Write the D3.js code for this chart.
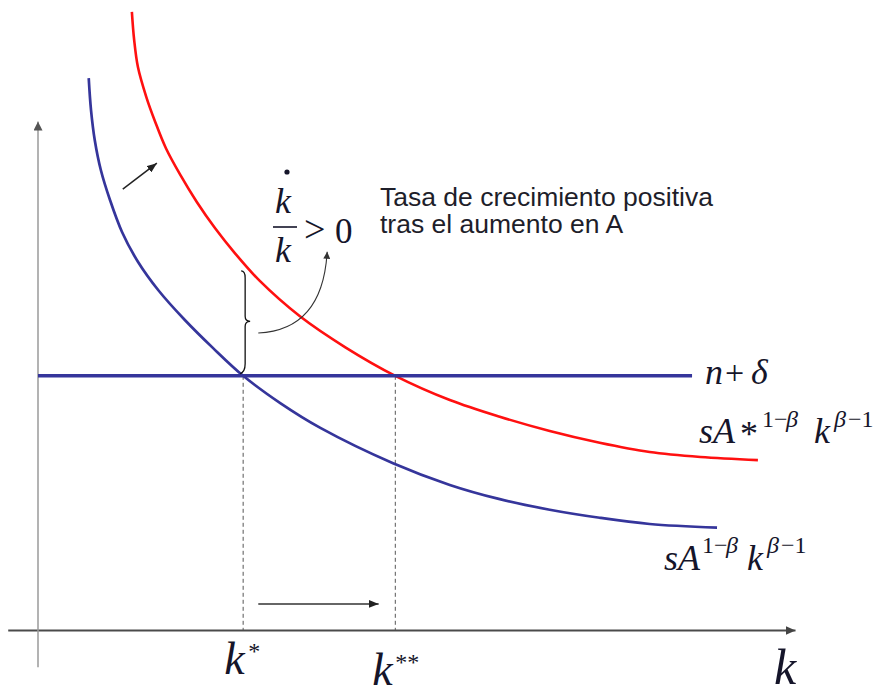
<!DOCTYPE html>
<html>
<head>
<meta charset="utf-8">
<script src="https://cdn.jsdelivr.net/npm/d3@7/dist/d3.min.js"></script>
<style>
  html, body { margin: 0; padding: 0; background: #fff; }
  svg { display: block; }
  .math { font-family: "Liberation Serif", "Times New Roman", serif; fill: #15152a; }
  .note { font-family: "Liberation Sans", Arial, sans-serif; fill: #1e1e2a; }
</style>
</head>
<body>
<svg id="chart" width="881" height="695"></svg>
<script>
// Capital stock k (horizontal) and growth-rate terms (vertical), in chart units 0..100
const kBlue = [6.7, 7.0, 7.5, 8.3, 9.5, 11.1, 13.2, 15.9, 19.4, 23.1, 27.1, 32.0, 37.3, 46.9, 54.4, 61.0, 67.6, 74.2, 80.8, 89.7];
const vBlue = [89.0, 83.9, 79.0, 74.2, 69.4, 64.2, 59.4, 54.8, 50.0, 45.5, 41.0, 36.6, 32.6, 26.9, 23.4, 21.1, 19.4, 18.1, 17.1, 16.5];

const kRed = [12.4, 12.7, 13.2, 14.3, 15.5, 16.9, 18.8, 21.0, 23.4, 26.0, 29.3, 34.6, 40.6, 47.2, 54.4, 61.0, 67.6, 74.2, 80.8, 87.5, 95.1];
const vRed = [99.7, 95.2, 90.8, 86.0, 81.9, 77.7, 73.4, 69.0, 64.8, 60.8, 56.3, 50.6, 45.6, 41.0, 37.1, 34.4, 32.1, 30.2, 28.7, 27.9, 27.4];

// n + delta (flat line) and its extent
const nDelta = 41.0;
const nDeltaEnd = 86.4;

// steady states before and after the rise in A
const kStar = 27.1;
const kStarStar = 47.2;

// extents of the drawn axes
const xAxisExtent = [-4, 100];
const yAxisExtent = [-6, 82];

const svg = d3.select("#chart");

const x = d3.scaleLinear().domain([0, 100]).range([38, 795]);
const y = d3.scaleLinear().domain([0, 100]).range([630, 10]);

// arrowhead markers
const defs = svg.append("defs");
function marker(id, color, w, h) {
  defs.append("marker")
    .attr("id", id)
    .attr("viewBox", `0 0 ${w} ${h}`)
    .attr("refX", w).attr("refY", h / 2)
    .attr("markerWidth", w).attr("markerHeight", h)
    .attr("markerUnits", "userSpaceOnUse")
    .attr("orient", "auto")
    .append("path")
    .attr("d", `M0,0 L${w},${h / 2} L0,${h} Z`)
    .attr("fill", color);
}
marker("headAxisX", "#444", 10, 9);
marker("headAxisY", "#555", 9, 9);
marker("headSmall", "#222", 10, 8);
marker("headCurve", "#333", 7, 7);

// axes: bare lines with arrowheads, built with d3 axis generators (no ticks)
const xAxisScale = d3.scaleLinear().domain(xAxisExtent).range([x(xAxisExtent[0]), x(xAxisExtent[1])]);
const yAxisScale = d3.scaleLinear().domain(yAxisExtent).range([y(yAxisExtent[0]), y(yAxisExtent[1])]);

const gx = svg.append("g").attr("transform", `translate(0,${y(0)})`)
  .call(d3.axisBottom(xAxisScale).tickValues([]).tickSizeOuter(0));
gx.select(".domain").attr("stroke", "#4a4a4a").attr("stroke-width", 2).attr("marker-end", "url(#headAxisX)");

const gy = svg.append("g").attr("transform", `translate(${x(0)},0)`)
  .call(d3.axisLeft(yAxisScale).tickValues([]).tickSizeOuter(0));
gy.select(".domain").attr("stroke", "#9a9a9a").attr("stroke-width", 1.5)
  .attr("d", `M0,${yAxisScale(yAxisExtent[0])}V${yAxisScale(yAxisExtent[1])}`)
  .attr("marker-end", "url(#headAxisY)");

// dashed drop lines at the two steady states
[kStar, kStarStar].forEach(k => {
  svg.append("line")
    .attr("x1", x(k)).attr("x2", x(k))
    .attr("y1", y(nDelta)).attr("y2", y(0))
    .attr("stroke", "#555").attr("stroke-width", 1)
    .attr("stroke-dasharray", "4,3");
});

const line = d3.line()
  .x(d => x(d[0])).y(d => y(d[1]))
  .curve(d3.curveCatmullRom.alpha(0.5));

// original curve sA^(1-β) k^(β-1)
svg.append("path")
  .datum(d3.zip(kBlue, vBlue))
  .attr("d", line)
  .attr("fill", "none").attr("stroke", "#35359b").attr("stroke-width", 2.7);

// curve after the rise in A
svg.append("path")
  .datum(d3.zip(kRed, vRed))
  .attr("d", line)
  .attr("fill", "none").attr("stroke", "#ff1010").attr("stroke-width", 2.6);

// n + δ
svg.append("line")
  .attr("x1", x(0)).attr("x2", x(nDeltaEnd))
  .attr("y1", y(nDelta)).attr("y2", y(nDelta))
  .attr("stroke", "#35359b").attr("stroke-width", 3.4);

// shift arrow between the curves
svg.append("line")
  .attr("x1", x(11.2)).attr("y1", y(71.1))
  .attr("x2", x(15.7)).attr("y2", y(75.3))
  .attr("stroke", "#222").attr("stroke-width", 1.5)
  .attr("marker-end", "url(#headSmall)");

// movement of k from k* to k**
svg.append("line")
  .attr("x1", x(kStar + 2.0)).attr("y1", y(4.2))
  .attr("x2", x(kStarStar - 2.2)).attr("y2", y(4.2))
  .attr("stroke", "#333").attr("stroke-width", 1.5)
  .attr("marker-end", "url(#headSmall)");

// brace over the gap between the red curve and n + δ at k*
const bx = x(kStar) + 2;
const bTop = y(57.6), bBot = y(nDelta) - 6, bMid = (bTop + bBot) / 2;
svg.append("path")
  .attr("d", `M${bx - 4},${bTop - 2} Q${bx},${bTop - 2} ${bx},${bTop + 5}
              L${bx},${bMid - 5} Q${bx},${bMid} ${bx + 5},${bMid}
              Q${bx},${bMid} ${bx},${bMid + 5}
              L${bx},${bBot - 6} Q${bx},${bBot + 2} ${bx - 5},${bBot + 4}`)
  .attr("fill", "none").attr("stroke", "#111").attr("stroke-width", 1.3);

// curved pointer from the brace to the growth-rate expression
svg.append("path")
  .attr("d", `M${x(29.1)},${y(47.9)} Q${x(37.6)},${y(48.4)} ${x(38.2)},${y(61.0)}`)
  .attr("fill", "none").attr("stroke", "#333").attr("stroke-width", 1.1)
  .attr("marker-end", "url(#headCurve)");

// growth-rate expression  k̇ / k > 0
const fx = 273;
svg.append("circle").attr("cx", fx + 14).attr("cy", 172).attr("r", 2.6).attr("fill", "#15152a");
svg.append("text").attr("class", "math").attr("x", fx + 2).attr("y", 213)
  .attr("font-size", 36).attr("font-style", "italic").text("k");
svg.append("line").attr("x1", fx).attr("x2", fx + 24).attr("y1", 227).attr("y2", 227)
  .attr("stroke", "#15152a").attr("stroke-width", 1.6);
svg.append("text").attr("class", "math").attr("x", fx + 2).attr("y", 262)
  .attr("font-size", 36).attr("font-style", "italic").text("k");
svg.append("text").attr("class", "math").attr("x", 304).attr("y", 242)
  .attr("font-size", 38).text(">");
svg.append("text").attr("class", "math").attr("x", 335).attr("y", 243)
  .attr("font-size", 35).text("0");

// explanatory note
const note = svg.append("text").attr("class", "note").attr("font-size", 26.5);
note.append("tspan").attr("x", 380).attr("y", 206).text("Tasa de crecimiento positiva");
note.append("tspan").attr("x", 380).attr("y", 233).text("tras el aumento en A");

// math label helper: each piece placed at its own x and baseline
function mathLabel(pieces) {
  const t = svg.append("text").attr("class", "math");
  pieces.forEach(p => {
    t.append("tspan")
      .attr("x", p.x).attr("y", p.y)
      .attr("font-size", p.size)
      .attr("font-style", p.italic ? "italic" : "normal")
      .text(p.t);
  });
}

// n + δ
mathLabel([
  { t: "n", x: 705, y: 384, size: 36, italic: true },
  { t: "+", x: 725, y: 384, size: 34, italic: false },
  { t: "δ", x: 751, y: 384, size: 36, italic: true }
]);

// sA*^(1-β) k^(β-1)
mathLabel([
  { t: "sA", x: 699, y: 443, size: 36, italic: true },
  { t: "*", x: 740, y: 446, size: 36, italic: false },
  { t: "1−", x: 762, y: 427, size: 24, italic: false },
  { t: "β", x: 786, y: 427, size: 24, italic: true },
  { t: "k", x: 814, y: 443, size: 36, italic: true },
  { t: "β", x: 834, y: 427, size: 24, italic: true },
  { t: "−1", x: 848, y: 427, size: 24, italic: false }
]);

// sA^(1-β) k^(β-1)
mathLabel([
  { t: "sA", x: 664, y: 570, size: 36, italic: true },
  { t: "1−", x: 702, y: 553, size: 24, italic: false },
  { t: "β", x: 726, y: 553, size: 24, italic: true },
  { t: "k", x: 747, y: 570, size: 36, italic: true },
  { t: "β", x: 767, y: 553, size: 24, italic: true },
  { t: "−1", x: 781, y: 553, size: 24, italic: false }
]);

// k* and k** under the axis, and the axis name k
mathLabel([
  { t: "k", x: x(kStar) - 19, y: 674, size: 46, italic: true },
  { t: "*", x: x(kStar) + 5, y: 659, size: 24, italic: false }
]);
mathLabel([
  { t: "k", x: x(kStarStar) - 23, y: 685, size: 46, italic: true },
  { t: "**", x: x(kStarStar), y: 670, size: 24, italic: false }
]);
mathLabel([
  { t: "k", x: 774, y: 684, size: 50, italic: true }
]);
</script>
</body>
</html>
